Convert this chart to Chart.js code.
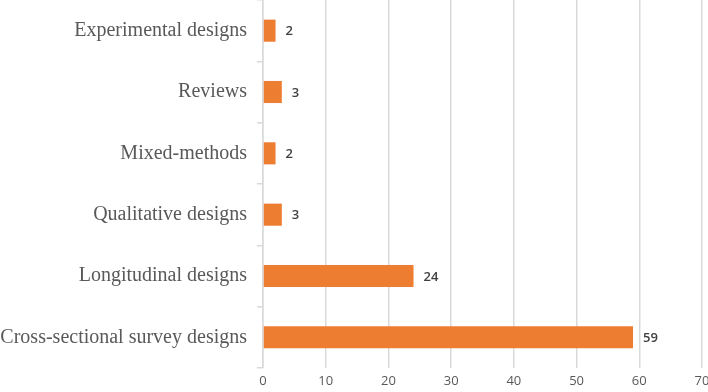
<!DOCTYPE html>
<html>
<head>
<meta charset="utf-8">
<script src="https://cdn.jsdelivr.net/npm/chart.js@4"></script>
<style>
  html, body { margin: 0; padding: 0; background: #ffffff; }
  #wrap { width: 708px; height: 392px; position: relative; }
</style>
</head>
<body>
<div id="wrap"><canvas id="chart"></canvas></div>
<script>
// Study designs (top to bottom as in the figure)
const designLabels = [
  'Experimental designs',
  'Reviews',
  'Mixed-methods',
  'Qualitative designs',
  'Longitudinal designs',
  'Cross-sectional survey designs'
];
const studyCounts = [2, 3, 2, 3, 24, 59];
const axisMin = 0;
const axisMax = 70;
const axisStep = 10;

const barColor = '#ED7D31';
const textGray = '#595959';
const gridGray = '#D9D9D9';

// Draws the value right of each bar
const valueLabels = {
  id: 'valueLabels',
  afterDatasetsDraw(chart) {
    const ctx = chart.ctx;
    const meta = chart.getDatasetMeta(0);
    ctx.save();
    ctx.font = '600 13px "Open Sans", sans-serif';
    ctx.fillStyle = '#404040';
    ctx.textAlign = 'left';
    ctx.textBaseline = 'middle';
    meta.data.forEach((bar, i) => {
      ctx.fillText(String(studyCounts[i]), bar.x + 10, bar.y + 1);
    });
    ctx.restore();
  }
};

new Chart(document.getElementById('chart'), {
  type: 'bar',
  data: {
    labels: designLabels,
    datasets: [{
      data: studyCounts,
      backgroundColor: barColor,
      borderWidth: 0,
      barPercentage: 0.36,
      categoryPercentage: 1.0
    }]
  },
  options: {
    indexAxis: 'y',
    responsive: true,
    maintainAspectRatio: false,
    animation: false,
    layout: { padding: { left: 0, right: 6, top: 0, bottom: 0 } },
    plugins: {
      legend: { display: false },
      tooltip: { enabled: false }
    },
    scales: {
      x: {
        min: axisMin,
        max: axisMax,
        ticks: {
          stepSize: axisStep,
          color: textGray,
          font: { family: '"Open Sans", sans-serif', size: 13 },
          padding: 5
        },
        grid: {
          color: gridGray,
          lineWidth: 1.5,
          drawTicks: false
        },
        border: { display: false },
        afterFit(scale) {
          scale.height = 24;
          scale.paddingRight = 0;
          scale.paddingLeft = 0;
        }
      },
      y: {
        ticks: {
          color: textGray,
          font: { family: '"Liberation Serif", "Times New Roman", serif', size: 20 },
          padding: 10
        },
        grid: {
          offset: true,
          drawOnChartArea: false,
          color: gridGray,
          tickLength: 6,
          lineWidth: 1.5
        },
        border: { display: true, color: gridGray, width: 1.5 },
        afterFit(scale) {
          scale.width = 263;
          scale.paddingTop = 0;
          scale.paddingBottom = 0;
        }
      }
    }
  },
  plugins: [valueLabels]
});
</script>
</body>
</html>
